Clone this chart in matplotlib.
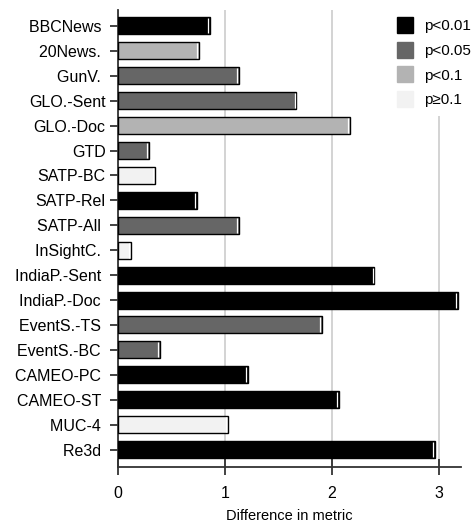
import matplotlib.pyplot as plt
from matplotlib.lines import Line2D
import numpy as np

plt.rcParams['font.family'] = ['Liberation Sans', 'DejaVu Sans']

datasets = ['BBCNews ', '20News. ', 'GunV. ', 'GLO.-Sent', 'GLO.-Doc', 'GTD',
            'SATP-BC', 'SATP-Rel', 'SATP-All ', 'InSightC. ', 'IndiaP.-Sent ',
            'IndiaP.-Doc ', 'EventS.-TS ', 'EventS.-BC ', 'CAMEO-PC ', 'CAMEO-ST ',
            'MUC-4 ', 'Re3d ']
diffs = [0.86, 0.76, 1.13, 1.67, 2.17, 0.29, 0.35, 0.74, 1.13, 0.12,
         2.40, 3.18, 1.91, 0.39, 1.22, 2.07, 1.03, 2.97]
# significance level per dataset: 0 p<0.01, 1 p<0.05, 2 p<0.1, 3 p>=0.1
signif = [0, 2, 1, 1, 2, 1, 3, 0, 1, 3, 0, 0, 1, 1, 0, 0, 3, 0]

levels = ['p<0.01', 'p<0.05', 'p<0.1', 'p\u22650.1']
level_colors = ['#000000', '#666666', '#b3b3b3', '#f2f2f2']

fig = plt.figure(figsize=(4.73, 5.23), dpi=100)
ax = fig.add_axes([0.2495, 0.1071, 0.7251, 0.8738])

y = np.arange(len(datasets))
cols = [level_colors[s] for s in signif]
ax.barh(y, diffs, height=0.68, color=cols, edgecolor='black', linewidth=1.0, zorder=3)
# thin white highlight just inside the bar ends
ax.vlines(np.array(diffs) - 0.018, y - 0.3, y + 0.3, color='white', linewidth=0.9, zorder=4)

ax.set_xlim(0, 3.21)
ax.set_ylim(17.7, -0.64)
ax.set_xticks([0, 1, 2, 3])
ax.set_yticks(y)
ax.set_yticklabels(datasets)
ax.tick_params(axis='both', direction='inout', length=11, width=1.2, labelsize=11.5,
               color='#222222')
ax.tick_params(axis='x', pad=8)
ax.grid(axis='x', color='#cccccc', linewidth=1.2, zorder=0)
for s in ['top', 'right']:
    ax.spines[s].set_visible(False)
for s in ['left', 'bottom']:
    ax.spines[s].set_color('#333333')
    ax.spines[s].set_linewidth(1.3)
ax.set_xlabel('Difference in metric', fontsize=10.5, labelpad=6)

handles = [Line2D([], [], marker='s', linestyle='none', markersize=12,
                  markerfacecolor=c, markeredgecolor=c) for c in level_colors]
leg = ax.legend(handles, levels, loc='upper left', bbox_to_anchor=(0.765, 1.0),
                frameon=True, fontsize=11, labelspacing=0.7, handletextpad=0.25,
                borderpad=0.6, borderaxespad=0)
leg.get_frame().set_edgecolor('none')
leg.get_frame().set_facecolor('white')
leg.get_frame().set_alpha(1)
leg.set_zorder(5)

fig.savefig('out.png', dpi=100)
